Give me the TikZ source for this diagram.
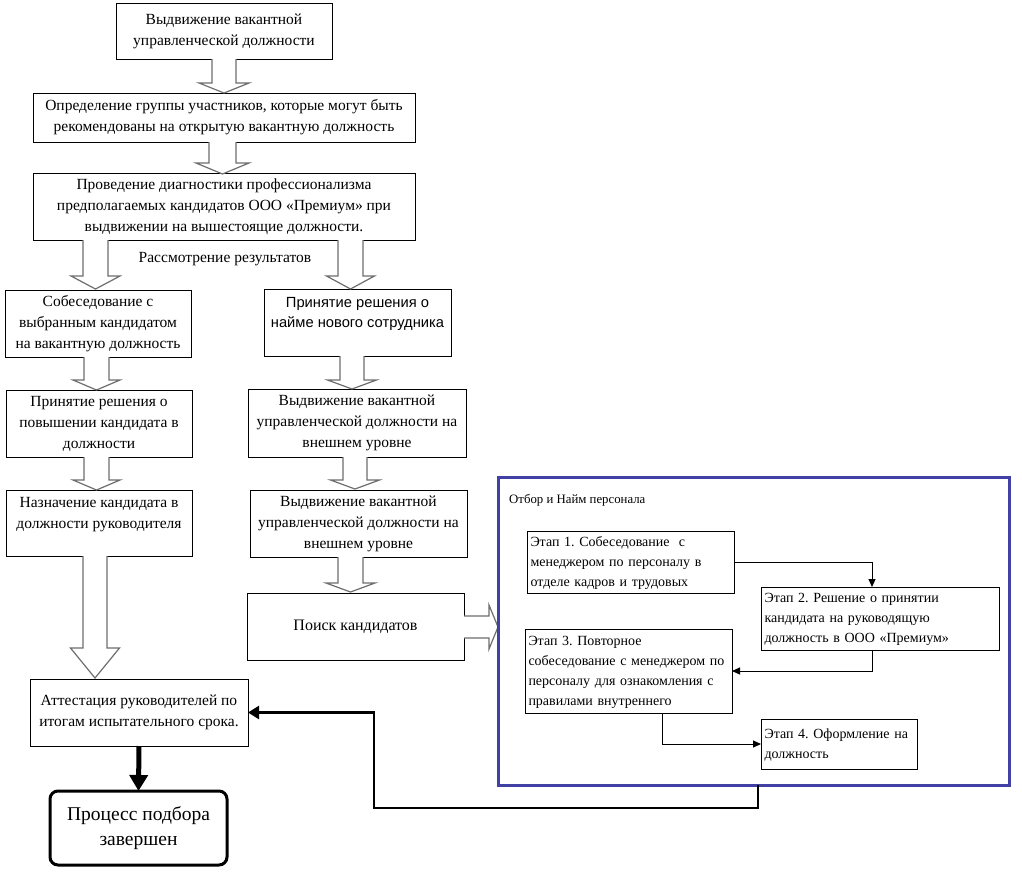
\documentclass[tikz,border=0pt]{standalone}
\usepackage{fontspec}
\setmainfont{Liberation Serif}
\newfontfamily\sansfam{Liberation Sans}
\usetikzlibrary{arrows.meta,calc}
\definecolor{arrowgray}{RGB}{110,110,110}
\definecolor{panelblue}{RGB}{64,64,165}
\frenchspacing
\tikzset{
  box/.style={draw, line width=1pt, inner sep=0pt, outer sep=0pt, anchor=north west,
    align=center, font=\fontsize{15.5}{21}\selectfont},
  stage/.style={draw, line width=1pt, inner xsep=3.5pt, inner ysep=0pt, outer sep=0pt,
    anchor=north west, align=left, font=\fontsize{14}{20}\selectfont},
  barrow/.style={draw=arrowgray, line width=1.2pt, fill=white, line join=miter},
  conn/.style={line width=1pt, -{Triangle[length=8pt,width=7pt]}},
  backline/.style={line width=2.5pt, -{Triangle[length=11pt,width=13pt]}},
  finalarrow/.style={line width=5pt, -{Triangle[length=16pt,width=18pt]}},
}
\newcommand\bdown[6]{\draw[barrow] ({#1-#4},#2) -- ({#1-#4},{#3-#6}) -- ({#1-#5},{#3-#6}) -- (#1,#3) -- ({#1+#5},{#3-#6}) -- ({#1+#4},{#3-#6}) -- ({#1+#4},#2);}
\begin{document}
\begin{tikzpicture}[x=1pt,y=-1pt]
\useasboundingbox (0,0) rectangle (1022,873);
\fill[white] (0,0) rectangle (1022,873);

% left / top column
\node[box, minimum width=216, minimum height=56] (b1) at (116,3) {Выдвижение вакантной\\управленческой должности};
\node[box, minimum width=382, minimum height=49] (b2) at (33,93) {Определение группы участников, которые могут быть\\рекомендованы на открытую вакантную должность};
\node[box, minimum width=382, minimum height=67] (b3) at (33,173) {Проведение диагностики профессионализма\\предполагаемых кандидатов ООО «Премиум» при\\выдвижении на вышестоящие должности.};
\node[font=\fontsize{15.5}{21}\selectfont] (res) at (225,259) {Рассмотрение результатов};
\node[box, minimum width=186, minimum height=67] (b4) at (5,290) {Собеседование с\\выбранным кандидатом\\на вакантную должность};
\node[box, minimum width=187, minimum height=67, font=\sansfam\fontsize{14.7}{20}\selectfont] (b5) at (264,289) {Принятие решения о\\найме нового сотрудника\\\mbox{}};
\node[box, minimum width=186, minimum height=67] (b6) at (6,390) {Принятие решения о\\повышении кандидата в\\должности};
\node[box, minimum width=186, minimum height=66] (b7) at (6,490) {Назначение кандидата в\\должности руководителя\\\mbox{}};
\node[box, minimum width=218, minimum height=68] (b8) at (248,389) {Выдвижение вакантной\\управленческой должности на\\внешнем уровне};
\node[box, minimum width=217, minimum height=67] (b9) at (250,490) {Выдвижение вакантной\\управленческой должности на\\внешнем уровне};
\node[box, minimum width=217, minimum height=67, font=\fontsize{16}{21}\selectfont] (b10) at (247,593) {Поиск кандидатов};
\node[box, minimum width=218, minimum height=67] (b11) at (30,679) {Аттестация руководителей по\\итогам испытательного срока.};
\node[box, minimum width=177, minimum height=74, line width=3pt, rounded corners=8pt,
  font=\fontsize{19.5}{25}\selectfont] (b12) at (50,791) {Процесс подбора\\завершен};

% block arrows
\bdown{224}{59}{93}{12}{25}{10}
\bdown{222.5}{142}{174}{13.5}{26.5}{11}
\bdown{95.5}{240}{289}{12.5}{24.5}{13}
\bdown{350.5}{240}{289}{12.5}{24}{13}
\bdown{96.5}{357}{390}{12.5}{23.5}{10}
\bdown{96.5}{457}{490}{12.5}{23.5}{10}
\bdown{95}{556}{678}{12}{24.5}{30}
\bdown{352}{356}{389}{12}{24.5}{9}
\bdown{355}{457}{489}{12}{24.5}{9}
\bdown{350.5}{557}{592}{12.5}{24.5}{9}
\draw[barrow] (464,616) -- (489,616) -- (489,605) -- (498,627) -- (489,649) -- (489,638) -- (464,638);

% panel
\node[draw=panelblue, line width=3pt, anchor=north west, minimum width=511, minimum height=308,
  inner sep=0pt, outer sep=0pt] (panel) at (498,477) {};
\node[anchor=west, inner sep=0pt, font=\fontsize{12.8}{14}\selectfont] (ptitle) at (509,500) {Отбор и Найм персонала};

\node[stage, minimum width=207, minimum height=62, text width=200] (e1) at (527,531)
  {\begin{tabular}{@{}l@{}}Этап 1. Собеседование~~с\\менеджером по персоналу в\\отделе кадров и трудовых\end{tabular}};
\node[stage, minimum width=238, minimum height=63, text width=231] (e2) at (761,587)
  {\begin{tabular}{@{}l@{}}Этап 2. Решение о принятии\\кандидата на руководящую\\должность в ООО «Премиум»\end{tabular}};
\node[stage, minimum width=207, minimum height=84, text width=200] (e3) at (525,629)
  {\begin{tabular}{@{}l@{}}Этап 3. Повторное\\собеседование с менеджером по\\персоналу для ознакомления с\\правилами внутреннего\end{tabular}};
\node[stage, minimum width=156, minimum height=50, text width=149] (e4) at (761,719)
  {\begin{tabular}{@{}l@{}}Этап 4. Оформление на\\должность\end{tabular}};

\draw[conn] (e1.east) -| ($(e2.north west)+(111,0)$);
\draw[conn] ($(e2.south west)+(111,0)$) |- (e3.east);
\draw[conn] ($(e3.south west)+(137,0)$) |- (e4.west);

% final arrows
\draw[finalarrow] (b11.south) -- (b12.north);
\coordinate (f1) at (758,808);
\coordinate (f2) at (374,808);
\draw[backline] (panel.south -| f1) -- (f1) -- (f2) |- (b11.east);
\end{tikzpicture}
\end{document}
